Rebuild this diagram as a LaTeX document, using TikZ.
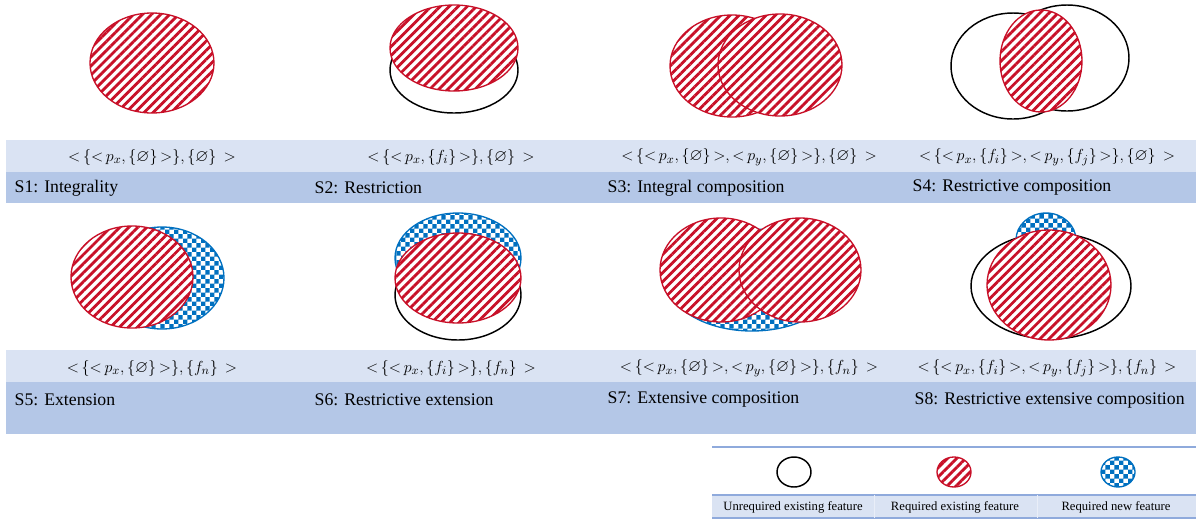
\documentclass[tikz,border=0pt]{standalone}
\usepackage{amssymb}
\usepackage{fontspec}
\setmainfont{Liberation Serif}
\usetikzlibrary{patterns,patterns.meta,positioning}
\definecolor{FEAT-RED}{RGB}{200, 16, 40}
\definecolor{FEAT-BLUE}{RGB}{0, 112, 192}
\definecolor{BAND-LIGHT}{RGB}{218, 227, 243}
\definecolor{BAND-DARK}{RGB}{180, 199, 231}
\definecolor{BAND-LINE}{RGB}{143, 170, 220}

% angle brackets without relation spacing
\newcommand{\lb}{{<}\,}
\newcommand{\rb}{\,{>}}

% checker for required new features
\pgfdeclarepatternformonly{bluecheck}{\pgfpointorigin}{\pgfqpoint{7pt}{7pt}}{\pgfqpoint{7pt}{7pt}}{%
  \pgfpathrectangle{\pgfpointorigin}{\pgfqpoint{3.5pt}{3.5pt}}%
  \pgfpathrectangle{\pgfqpoint{3.5pt}{3.5pt}}{\pgfqpoint{3.5pt}{3.5pt}}%
  \pgfusepath{fill}}

\tikzset{
  oldfeat/.style={draw=black, line width=1.1pt, fill=white},
  reqfeat/.style={draw=FEAT-RED, line width=1pt, preaction={fill=white},
    pattern={Lines[angle=45,distance=4.8pt,line width=2.1pt]}, pattern color=FEAT-RED},
  newfeat/.style={draw=FEAT-BLUE, line width=1pt, preaction={fill=white},
    pattern=bluecheck, pattern color=FEAT-BLUE},
  formula/.style={font=\fontsize{12.6}{15}\selectfont},
  scenlabel/.style={anchor=west, font=\fontsize{13.3}{16}\selectfont},
  legtext/.style={font=\fontsize{9.5}{11}\selectfont}
}

\begin{document}
\begin{tikzpicture}[x=0.75pt, y=0.75pt]
  \useasboundingbox (0,0) rectangle (1196,-519);

  % bands
  \fill[BAND-LIGHT] (6,-140) rectangle (1196,-172);
  \fill[BAND-DARK] (6,-172) rectangle (1196,-203);
  \fill[BAND-LIGHT] (6,-350) rectangle (1196,-382);
  \fill[BAND-DARK] (6,-382) rectangle (1196,-434);

  % S1
  \filldraw[reqfeat] (152,-63) ellipse [x radius=62, y radius=50];
  % S2
  \filldraw[oldfeat] (454,-70) ellipse [x radius=64, y radius=43];
  \filldraw[reqfeat] (454,-48) ellipse [x radius=64, y radius=43];
  % S3
  \filldraw[reqfeat] (732,-66) ellipse [x radius=62, y radius=51];
  \filldraw[reqfeat] (780,-65) ellipse [x radius=62, y radius=51];
  % S4
  \draw[oldfeat, fill=none] (1013,-66) ellipse [x radius=62, y radius=53];
  \draw[oldfeat, fill=none] (1067,-58) ellipse [x radius=62, y radius=53];
  \filldraw[reqfeat] (1041,-61) ellipse [x radius=41, y radius=51];

  % S5
  \filldraw[newfeat] (162,-278) ellipse [x radius=62, y radius=51];
  \filldraw[reqfeat] (132,-277) ellipse [x radius=61, y radius=51];
  % S6
  \filldraw[oldfeat] (458,-295) ellipse [x radius=63, y radius=45];
  \filldraw[newfeat] (458,-258) ellipse [x radius=63, y radius=45];
  \filldraw[reqfeat] (458,-278) ellipse [x radius=63, y radius=45];
  % S7
  \filldraw[newfeat] (752,-280) ellipse [x radius=85, y radius=51];
  \filldraw[reqfeat] (721,-270) ellipse [x radius=61, y radius=52];
  \filldraw[reqfeat] (800,-270) ellipse [x radius=61, y radius=52];
  % S8
  \filldraw[oldfeat] (1051,-286) ellipse [x radius=80, y radius=53];
  \filldraw[newfeat] (1046,-240) ellipse [x radius=30, y radius=27];
  \filldraw[reqfeat] (1049,-285) ellipse [x radius=62, y radius=55];

  % formulas
  \node[formula] (f1) at (152,-157) {$\lb\{\lb p_x,\{\varnothing\}\rb\},\{\varnothing\}\;\rb$};
  \node[formula] (f2) at (451,-157) {$\lb\{\lb p_x,\{f_i\}\rb\},\{\varnothing\}\;\rb$};
  \node[formula] (f3) at (749,-157) {$\lb\{\lb p_x,\{\varnothing\}\rb,\lb p_y,\{\varnothing\}\rb\},\{\varnothing\}\;\rb$};
  \node[formula] (f4) at (1047,-157) {$\lb\{\lb p_x,\{f_i\}\rb,\lb p_y,\{f_j\}\rb\},\{\varnothing\}\;\rb$};
  \node[formula] (f5) at (152,-368) {$\lb\{\lb p_x,\{\varnothing\}\rb\},\{f_n\}\;\rb$};
  \node[formula] (f6) at (451,-368) {$\lb\{\lb p_x,\{f_i\}\rb\},\{f_n\}\;\rb$};
  \node[formula] (f7) at (749,-368) {$\lb\{\lb p_x,\{\varnothing\}\rb,\lb p_y,\{\varnothing\}\rb\},\{f_n\}\;\rb$};
  \node[formula] (f8) at (1047,-368) {$\lb\{\lb p_x,\{f_i\}\rb,\lb p_y,\{f_j\}\rb\},\{f_n\}\;\rb$};

  % scenario labels
  \node[scenlabel] (s1) at (10,-188) {S1: Integrality};
  \node[scenlabel] (s2) at (310,-188) {S2: Restriction};
  \node[scenlabel] (s3) at (603,-188) {S3: Integral composition};
  \node[scenlabel] (s4) at (908,-188) {S4: Restrictive composition};
  \node[scenlabel] (s5) at (10,-400) {S5: Extension};
  \node[scenlabel] (s6) at (310,-400) {S6: Restrictive extension};
  \node[scenlabel] (s7) at (603,-400) {S7: Extensive composition};
  \node[scenlabel] (s8) at (910,-400) {S8: Restrictive extensive composition};

  % legend
  \draw[BAND-LINE, line width=1pt] (712,-447) -- (1196,-447);
  \fill[BAND-LIGHT] (712,-495) rectangle (1196,-518);
  \draw[BAND-LINE, line width=1pt] (712,-495) -- (1196,-495);
  \draw[BAND-LINE, line width=1pt] (712,-518) -- (1196,-518);
  \draw[white!80!BAND-LINE] (874,-495) -- (874,-518) (1037,-495) -- (1037,-518);
  \filldraw[oldfeat] (794,-472) ellipse [x radius=17, y radius=15];
  \filldraw[reqfeat] (954,-472) ellipse [x radius=17, y radius=15];
  \filldraw[newfeat] (1118,-472) ellipse [x radius=17, y radius=15];
  \node[legtext] (l1) at (793,-507) {Unrequired existing feature};
  \node[legtext] (l2) at (955,-507) {Required existing feature};
  \node[legtext] (l3) at (1116,-507) {Required new feature};
\end{tikzpicture}
\end{document}
